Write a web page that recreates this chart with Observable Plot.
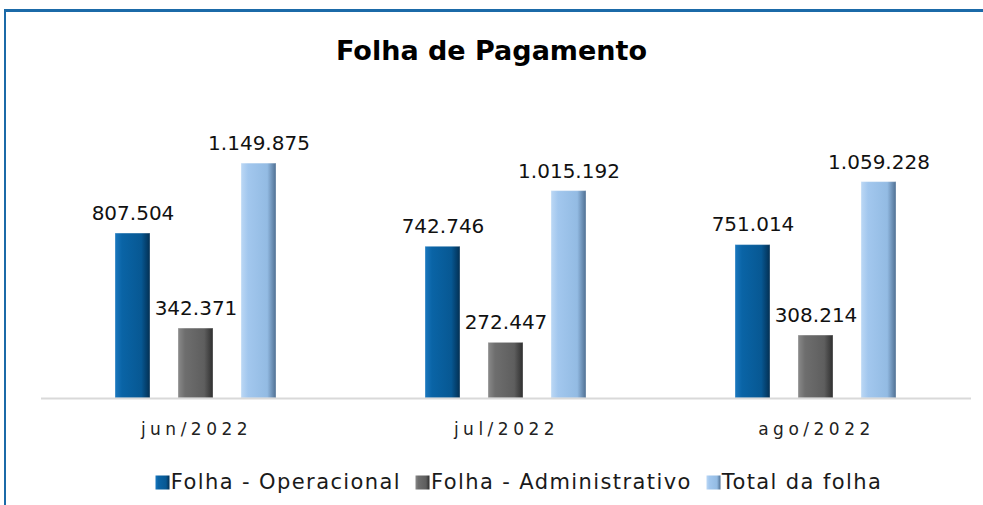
<!DOCTYPE html>
<html><head><meta charset="utf-8">
<script src="https://cdn.jsdelivr.net/npm/d3@7"></script>
<script src="https://cdn.jsdelivr.net/npm/@observablehq/plot@0.6"></script>
<style>
html,body{margin:0;padding:0;background:#fff;}
#wrap{position:relative;width:983px;height:505px;overflow:hidden;font-family:"DejaVu Sans",sans-serif;}
#topline{position:absolute;left:4px;top:9px;width:979px;height:3px;background:#1b6aa8;}
#leftline{position:absolute;left:4px;top:9px;width:2px;height:496px;background:#1b6aa8;}
#title{position:absolute;left:0;width:983px;top:35px;text-align:center;font-weight:bold;font-size:27px;color:#000;}
#chart{position:absolute;left:0;top:0;}
#legend{position:absolute;left:27px;width:983px;top:470px;text-align:center;font-size:21px;letter-spacing:1.4px;color:#1a1a1a;white-space:nowrap;}
#legend span.item{margin:0 7px;}
#legend svg{vertical-align:-1px;margin-right:1px;}
g[aria-label="fx-axis tick label"] text{letter-spacing:4.5px;}
</style></head>
<body>
<svg width="0" height="0" style="position:absolute">
<defs>
<linearGradient id="g0" x1="0" x2="1" y1="0" y2="0">
<stop offset="0" stop-color="#1a78bf"/><stop offset="0.2" stop-color="#0a64a6"/><stop offset="0.75" stop-color="#075893"/><stop offset="1" stop-color="#032f52"/>
</linearGradient>
<linearGradient id="g1" x1="0" x2="1" y1="0" y2="0">
<stop offset="0" stop-color="#8a8a8a"/><stop offset="0.2" stop-color="#6e6e6e"/><stop offset="0.75" stop-color="#5e5e5e"/><stop offset="1" stop-color="#2e2e2e"/>
</linearGradient>
<linearGradient id="g2" x1="0" x2="1" y1="0" y2="0">
<stop offset="0" stop-color="#bcd8f5"/><stop offset="0.2" stop-color="#a2c7ee"/><stop offset="0.75" stop-color="#93bbe3"/><stop offset="1" stop-color="#4f6f92"/>
</linearGradient>
</defs></svg>
<div id="wrap">
<div id="topline"></div><div id="leftline"></div>
<div id="title">Folha de Pagamento</div>
<div id="chart"></div>
<div id="legend"></div>
</div>
<script>
const months = ["jun/2022", "jul/2022", "ago/2022"];
const series = ["Folha - Operacional", "Folha - Administrativo", "Total da folha"];
const operacional = [807504, 742746, 751014];
const administrativo = [342371, 272447, 308214];
const total = [1149875, 1015192, 1059228];
const fills = ["url(#g0)", "url(#g1)", "url(#g2)"];

const seriesValues = [operacional, administrativo, total];
const data = [];
months.forEach((m, i) => series.forEach((s, j) => data.push({month: m, series: s, value: seriesValues[j][i]})));

const fmt = d3.formatLocale({decimal: ",", thousands: ".", grouping: [3], currency: ["R$", ""]}).format(",d");

const chart = Plot.plot({
  width: 983,
  height: 505,
  marginLeft: 40,
  marginRight: 11,
  marginTop: 112,
  marginBottom: 107,
  style: {fontFamily: "DejaVu Sans, sans-serif", background: "transparent", overflow: "visible"},
  fx: {domain: months, padding: 0},
  x: {domain: series, paddingInner: 0.4375, paddingOuter: 1.149, axis: null},
  y: {domain: [0, 1400000], axis: null},
  marks: [
    Plot.barY(data, {fx: "month", x: "series", y: "value", fill: d => fills[series.indexOf(d.series)], stroke: "#ffffff", strokeOpacity: 0.35, strokeWidth: 1}),
    Plot.text(data, {fx: "month", x: "series", y: "value", text: d => fmt(d.value), dy: -20, fontSize: 20, fill: "#111"}),
    Plot.ruleY([0], {stroke: "#d9d9d9", strokeWidth: 2}),
    Plot.axisFx({anchor: "bottom", tickSize: 0, tickPadding: 24, fontSize: 17, label: null, fill: "#222"})
  ]
});
document.getElementById("chart").appendChild(chart);

const legend = document.getElementById("legend");
series.forEach((s, j) => {
  const span = document.createElement("span");
  span.className = "item";
  span.innerHTML = `<svg width="15" height="15"><rect x="0.5" y="0.5" width="14" height="14" fill="${fills[j]}"/></svg>${s}`;
  legend.appendChild(span);
});
</script>
</body></html>
